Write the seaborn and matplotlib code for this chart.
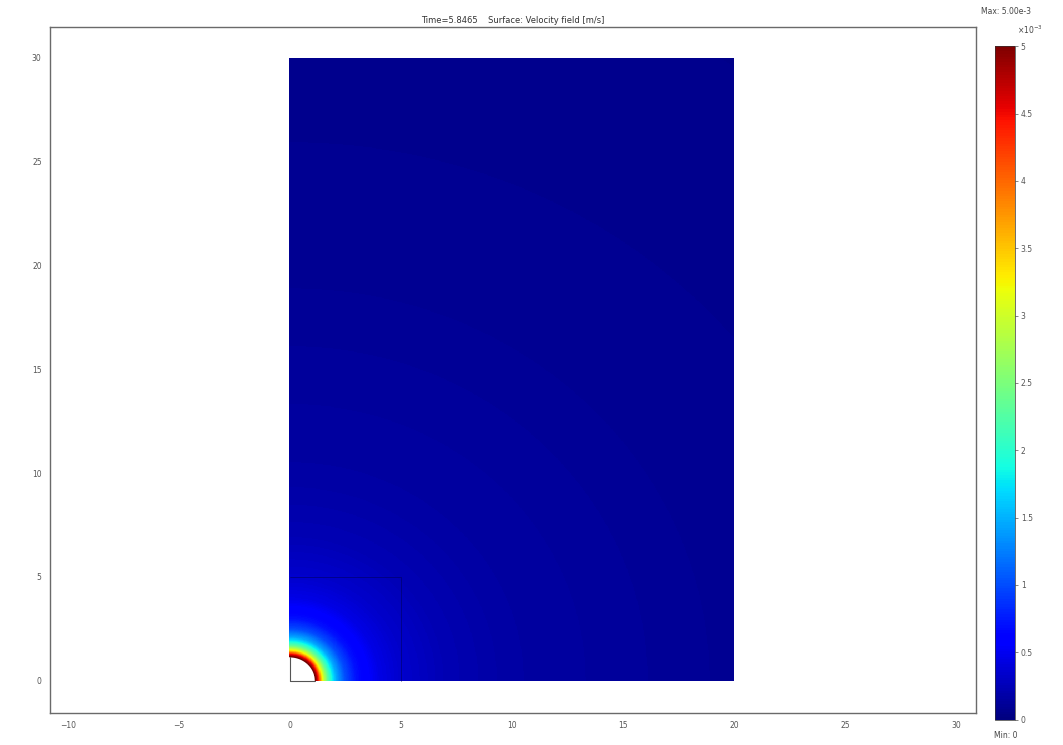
import numpy as np
import matplotlib
matplotlib.use("Agg")
import matplotlib.pyplot as plt
import seaborn as sns

sns.set_theme(style="white")
plt.rcParams["font.family"] = ["DejaVu Sans"]

# Radial speed profile around the sphere (units of 1e-3 m/s)
radius_pts = [1.15, 1.22, 1.30, 1.38, 1.46, 1.55, 1.70, 1.90, 2.10, 2.50, 3.00, 4.00, 5.00, 7.00, 10.0, 20.0, 40.0]
speed_pts = [5.00, 4.80, 4.40, 3.80, 3.30, 2.90, 2.35, 1.85, 1.45, 1.00, 0.70, 0.45, 0.34, 0.23, 0.16, 0.09, 0.05]

sphere_radius = 1.15
domain_width = 20.0
domain_height = 30.0
inner_box = 5.0

title_text = "Time=5.8465    Surface: Velocity field [m/s]"
x_ticks = [-10, -5, 0, 5, 10, 15, 20, 25, 30]
y_ticks = [0, 5, 10, 15, 20, 25, 30]
cbar_ticks = [0, 0.5, 1, 1.5, 2, 2.5, 3, 3.5, 4, 4.5, 5]
cbar_labels = ["0", "0.5", "1", "1.5", "2", "2.5", "3", "3.5", "4", "4.5", "5"]

xs = np.linspace(0, domain_width, 801)
ys = np.linspace(0, domain_height, 1201)
X, Y = np.meshgrid(xs, ys)
R = np.hypot(X, Y)
speed = np.interp(R, radius_pts, speed_pts)
speed = np.ma.masked_where(R < sphere_radius, speed)

fig = plt.figure(figsize=(10.63, 7.45), dpi=100)
ax = fig.add_axes([0.047, 0.043, 0.871, 0.921])
cax = fig.add_axes([0.936, 0.034, 0.019, 0.904])

mesh = ax.pcolormesh(xs, ys, speed, cmap="jet", vmin=0, vmax=5, shading="auto", rasterized=True)

# sub-domain outline and sphere boundary
ax.plot([0, inner_box, inner_box], [inner_box, inner_box, 0], color="#000040", lw=0.6, alpha=0.5)
theta = np.linspace(0, np.pi / 2, 100)
ax.plot(sphere_radius * np.cos(theta), sphere_radius * np.sin(theta), color="#700000", lw=0.8)
ax.plot([0, sphere_radius], [0, 0], color="#555555", lw=0.8)
ax.plot([0, 0], [0, sphere_radius], color="#555555", lw=0.8)

ax.set_xlim(-10.8, 30.9)
ax.set_ylim(-1.55, 31.5)
ax.set_xticks(x_ticks)
ax.set_yticks(y_ticks)
ax.tick_params(axis="both", direction="in", length=2, width=0.5, labelsize=5.5, colors="#555555", pad=6)
ax.set_title(title_text, fontsize=6, color="#333333", pad=3)
for sp in ax.spines.values():
    sp.set_color("#6a6a6a")
    sp.set_linewidth(1.0)

cb = fig.colorbar(mesh, cax=cax)
cb.set_ticks(cbar_ticks)
cb.set_ticklabels(cbar_labels)
cb.ax.tick_params(labelsize=5.5, colors="#555555", length=2, width=0.5, pad=2)
cb.outline.set_linewidth(0.5)
cb.outline.set_edgecolor("#333333")
fig.text(0.946, 0.984, "Max: 5.00e-3", fontsize=5.5, color="#444444", ha="center", va="center")
fig.text(0.957, 0.960, r"$\times10^{-3}$", fontsize=5.5, color="#444444", ha="left", va="center")
fig.text(0.946, 0.013, "Min: 0", fontsize=5.5, color="#444444", ha="center", va="center")

fig.savefig("out.png", dpi=100)
